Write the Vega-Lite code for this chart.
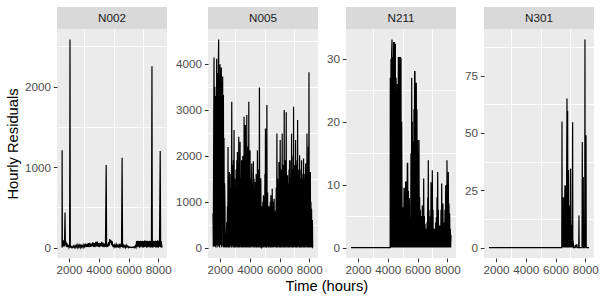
{
  "$schema": "https://vega.github.io/schema/vega-lite/v6.json",
  "padding": {"left": 5, "top": 7, "right": 0, "bottom": 0},
  "autosize": {"type": "pad"},
  "config": {
    "font": "Liberation Sans",
    "view": {"fill": "#EBEBEB", "stroke": null},
    "axis": {
      "domain": false,
      "format": "d",
      "gridColor": "#FFFFFF",
      "tickColor": "#333333",
      "tickSize": 3.7,
      "tickWidth": 1,
      "labelPadding": 2.9,
      "labelFontSize": 11.7,
      "labelColor": "#4D4D4D",
      "labelFont": "Liberation Sans",
      "labelOverlap": false,
      "labelFlush": false,
      "titleFont": "Liberation Sans",
      "titleFontSize": 14.7,
      "titleFontWeight": "normal",
      "titleColor": "#000000",
      "titlePadding": 4
    }
  },
  "title": {"text": "Time (hours)", "orient": "bottom", "anchor": "middle", "fontSize": 14.7, "fontWeight": "normal", "color": "#000000", "font": "Liberation Sans", "offset": 3, "dx": 25},
  "datasets": {
    "N002": [
      {"hour":1530,"residual":0},{"hour":1540,"residual":1210},{"hour":1555,"residual":0},{"hour":1580,"residual":80},{"hour":1610,"residual":20},{"hour":1640,"residual":90},{"hour":1670,"residual":10},{"hour":1700,"residual":70},{"hour":1733,"residual":437},{"hour":1760,"residual":30},{"hour":1790,"residual":75},{"hour":1820,"residual":10},{"hour":1850,"residual":60},{"hour":1880,"residual":5},{"hour":1910,"residual":40},{"hour":1940,"residual":5},{"hour":1970,"residual":30},{"hour":2000,"residual":0},{"hour":2040,"residual":20},{"hour":2067,"residual":2587},{"hour":2090,"residual":0},{"hour":2130,"residual":15},{"hour":2170,"residual":0},{"hour":2210,"residual":10},{"hour":2250,"residual":0},{"hour":2300,"residual":20},{"hour":2350,"residual":0},{"hour":2400,"residual":25},{"hour":2450,"residual":2},{"hour":2500,"residual":30},{"hour":2550,"residual":0},{"hour":2600,"residual":35},{"hour":2650,"residual":5},{"hour":2700,"residual":30},{"hour":2750,"residual":0},{"hour":2800,"residual":40},{"hour":2850,"residual":5},{"hour":2900,"residual":25},{"hour":2950,"residual":0},{"hour":3000,"residual":35},{"hour":3050,"residual":10},{"hour":3100,"residual":50},{"hour":3150,"residual":5},{"hour":3200,"residual":45},{"hour":3250,"residual":10},{"hour":3300,"residual":55},{"hour":3350,"residual":5},{"hour":3400,"residual":60},{"hour":3450,"residual":10},{"hour":3500,"residual":50},{"hour":3550,"residual":15},{"hour":3600,"residual":65},{"hour":3650,"residual":10},{"hour":3700,"residual":55},{"hour":3750,"residual":5},{"hour":3800,"residual":70},{"hour":3850,"residual":15},{"hour":3900,"residual":75},{"hour":3950,"residual":10},{"hour":4000,"residual":55},{"hour":4050,"residual":5},{"hour":4100,"residual":60},{"hour":4150,"residual":15},{"hour":4200,"residual":70},{"hour":4250,"residual":10},{"hour":4300,"residual":60},{"hour":4350,"residual":5},{"hour":4400,"residual":50},{"hour":4450,"residual":10},{"hour":4500,"residual":1025},{"hour":4530,"residual":5},{"hour":4580,"residual":40},{"hour":4620,"residual":10},{"hour":4660,"residual":70},{"hour":4700,"residual":20},{"hour":4740,"residual":105},{"hour":4780,"residual":60},{"hour":4820,"residual":95},{"hour":4860,"residual":30},{"hour":4900,"residual":80},{"hour":4940,"residual":10},{"hour":4980,"residual":40},{"hour":5030,"residual":5},{"hour":5080,"residual":35},{"hour":5130,"residual":0},{"hour":5180,"residual":40},{"hour":5230,"residual":10},{"hour":5280,"residual":30},{"hour":5330,"residual":0},{"hour":5380,"residual":45},{"hour":5430,"residual":5},{"hour":5480,"residual":35},{"hour":5530,"residual":10},{"hour":5570,"residual":1116},{"hour":5600,"residual":0},{"hour":5650,"residual":30},{"hour":5700,"residual":5},{"hour":5750,"residual":25},{"hour":5800,"residual":0},{"hour":5850,"residual":30},{"hour":5900,"residual":5},{"hour":5950,"residual":20},{"hour":6000,"residual":0},{"hour":6050,"residual":10},{"hour":6100,"residual":0},{"hour":6150,"residual":5},{"hour":6200,"residual":0},{"hour":6250,"residual":5},{"hour":6300,"residual":0},{"hour":6350,"residual":10},{"hour":6400,"residual":0},{"hour":6450,"residual":20},{"hour":6500,"residual":0},{"hour":6540,"residual":80},{"hour":6580,"residual":5},{"hour":6620,"residual":85},{"hour":6660,"residual":10},{"hour":6700,"residual":80},{"hour":6740,"residual":0},{"hour":6780,"residual":85},{"hour":6820,"residual":5},{"hour":6860,"residual":80},{"hour":6900,"residual":10},{"hour":6940,"residual":85},{"hour":6980,"residual":0},{"hour":7020,"residual":80},{"hour":7060,"residual":5},{"hour":7100,"residual":90},{"hour":7140,"residual":10},{"hour":7180,"residual":80},{"hour":7220,"residual":0},{"hour":7260,"residual":85},{"hour":7300,"residual":5},{"hour":7340,"residual":80},{"hour":7380,"residual":10},{"hour":7420,"residual":85},{"hour":7460,"residual":0},{"hour":7500,"residual":80},{"hour":7540,"residual":5},{"hour":7575,"residual":2254},{"hour":7600,"residual":0},{"hour":7640,"residual":85},{"hour":7680,"residual":5},{"hour":7720,"residual":80},{"hour":7760,"residual":10},{"hour":7800,"residual":85},{"hour":7840,"residual":0},{"hour":7880,"residual":80},{"hour":7920,"residual":5},{"hour":7960,"residual":90},{"hour":8000,"residual":0},{"hour":8040,"residual":80},{"hour":8080,"residual":10},{"hour":8130,"residual":1200},{"hour":8160,"residual":5},{"hour":8200,"residual":80},{"hour":8250,"residual":0}
    ],
    "N005": [
      {"hour":1530,"residual":740},{"hour":1550,"residual":20},{"hour":1580,"residual":2800},{"hour":1600,"residual":4138},{"hour":1620,"residual":30},{"hour":1650,"residual":3500},{"hour":1670,"residual":2885},{"hour":1690,"residual":10},{"hour":1720,"residual":3300},{"hour":1750,"residual":50},{"hour":1775,"residual":4109},{"hour":1800,"residual":0},{"hour":1830,"residual":3800},{"hour":1860,"residual":40},{"hour":1890,"residual":4000},{"hour":1910,"residual":4531},{"hour":1930,"residual":20},{"hour":1960,"residual":3700},{"hour":1980,"residual":0},{"hour":2000,"residual":3993},{"hour":2030,"residual":60},{"hour":2060,"residual":3500},{"hour":2090,"residual":3920},{"hour":2110,"residual":10},{"hour":2140,"residual":2800},{"hour":2180,"residual":3723},{"hour":2200,"residual":30},{"hour":2230,"residual":3322},{"hour":2250,"residual":0},{"hour":2270,"residual":2383},{"hour":2290,"residual":20},{"hour":2310,"residual":1400},{"hour":2337,"residual":881},{"hour":2350,"residual":0},{"hour":2385,"residual":262},{"hour":2410,"residual":10},{"hour":2450,"residual":553},{"hour":2470,"residual":0},{"hour":2500,"residual":900},{"hour":2520,"residual":30},{"hour":2540,"residual":2192},{"hour":2560,"residual":0},{"hour":2590,"residual":1200},{"hour":2610,"residual":20},{"hour":2630,"residual":1646},{"hour":2650,"residual":0},{"hour":2680,"residual":1300},{"hour":2700,"residual":40},{"hour":2730,"residual":1600},{"hour":2760,"residual":0},{"hour":2790,"residual":3176},{"hour":2810,"residual":30},{"hour":2830,"residual":1800},{"hour":2855,"residual":1428},{"hour":2875,"residual":0},{"hour":2900,"residual":1900},{"hour":2920,"residual":50},{"hour":2945,"residual":2557},{"hour":2965,"residual":0},{"hour":2990,"residual":1500},{"hour":3010,"residual":20},{"hour":3035,"residual":962},{"hour":3055,"residual":0},{"hour":3080,"residual":1700},{"hour":3100,"residual":30},{"hour":3130,"residual":1900},{"hour":3150,"residual":0},{"hour":3170,"residual":2083},{"hour":3190,"residual":40},{"hour":3215,"residual":1600},{"hour":3240,"residual":0},{"hour":3260,"residual":2411},{"hour":3280,"residual":20},{"hour":3305,"residual":1700},{"hour":3325,"residual":0},{"hour":3350,"residual":2302},{"hour":3370,"residual":30},{"hour":3395,"residual":1500},{"hour":3420,"residual":0},{"hour":3450,"residual":1900},{"hour":3470,"residual":50},{"hour":3485,"residual":1727},{"hour":3505,"residual":0},{"hour":3530,"residual":2000},{"hour":3555,"residual":20},{"hour":3580,"residual":1600},{"hour":3600,"residual":0},{"hour":3620,"residual":2848},{"hour":3640,"residual":40},{"hour":3665,"residual":2100},{"hour":3685,"residual":0},{"hour":3705,"residual":2667},{"hour":3725,"residual":30},{"hour":3750,"residual":1900},{"hour":3775,"residual":0},{"hour":3800,"residual":2885},{"hour":3820,"residual":20},{"hour":3850,"residual":2200},{"hour":3870,"residual":0},{"hour":3895,"residual":1800},{"hour":3915,"residual":40},{"hour":3935,"residual":3176},{"hour":3955,"residual":0},{"hour":3980,"residual":1600},{"hour":4000,"residual":30},{"hour":4020,"residual":2120},{"hour":4040,"residual":0},{"hour":4065,"residual":1500},{"hour":4090,"residual":20},{"hour":4110,"residual":1300},{"hour":4135,"residual":1829},{"hour":4155,"residual":0},{"hour":4180,"residual":1400},{"hour":4200,"residual":30},{"hour":4225,"residual":1200},{"hour":4245,"residual":1880},{"hour":4265,"residual":0},{"hour":4290,"residual":1500},{"hour":4310,"residual":20},{"hour":4335,"residual":1300},{"hour":4360,"residual":0},{"hour":4380,"residual":1428},{"hour":4400,"residual":40},{"hour":4430,"residual":1600},{"hour":4450,"residual":0},{"hour":4480,"residual":1400},{"hour":4500,"residual":30},{"hour":4515,"residual":2120},{"hour":4535,"residual":0},{"hour":4560,"residual":1700},{"hour":4580,"residual":20},{"hour":4610,"residual":1500},{"hour":4630,"residual":0},{"hour":4650,"residual":3482},{"hour":4670,"residual":40},{"hour":4700,"residual":1400},{"hour":4720,"residual":0},{"hour":4745,"residual":1508},{"hour":4765,"residual":20},{"hour":4780,"residual":0},{"hour":4800,"residual":10},{"hour":4830,"residual":900},{"hour":4850,"residual":0},{"hour":4880,"residual":1000},{"hour":4900,"residual":20},{"hour":4920,"residual":1137},{"hour":4940,"residual":0},{"hour":4970,"residual":1100},{"hour":4990,"residual":30},{"hour":5020,"residual":1600},{"hour":5040,"residual":0},{"hour":5055,"residual":2594},{"hour":5075,"residual":20},{"hour":5100,"residual":1500},{"hour":5120,"residual":0},{"hour":5150,"residual":3104},{"hour":5170,"residual":30},{"hour":5200,"residual":1200},{"hour":5220,"residual":0},{"hour":5250,"residual":900},{"hour":5270,"residual":20},{"hour":5285,"residual":662},{"hour":5305,"residual":0},{"hour":5330,"residual":900},{"hour":5350,"residual":30},{"hour":5380,"residual":1000},{"hour":5400,"residual":0},{"hour":5420,"residual":1137},{"hour":5440,"residual":20},{"hour":5470,"residual":900},{"hour":5490,"residual":0},{"hour":5510,"residual":1282},{"hour":5530,"residual":30},{"hour":5560,"residual":1000},{"hour":5580,"residual":0},{"hour":5610,"residual":900},{"hour":5640,"residual":1064},{"hour":5660,"residual":20},{"hour":5690,"residual":800},{"hour":5710,"residual":0},{"hour":5730,"residual":662},{"hour":5750,"residual":30},{"hour":5780,"residual":1300},{"hour":5800,"residual":0},{"hour":5825,"residual":2485},{"hour":5845,"residual":20},{"hour":5870,"residual":1500},{"hour":5890,"residual":0},{"hour":5920,"residual":1400},{"hour":5940,"residual":40},{"hour":5960,"residual":1865},{"hour":5980,"residual":0},{"hour":6010,"residual":1600},{"hour":6030,"residual":30},{"hour":6045,"residual":2339},{"hour":6065,"residual":0},{"hour":6090,"residual":1700},{"hour":6110,"residual":20},{"hour":6140,"residual":1500},{"hour":6160,"residual":0},{"hour":6180,"residual":2485},{"hour":6200,"residual":40},{"hour":6230,"residual":1800},{"hour":6250,"residual":0},{"hour":6280,"residual":1600},{"hour":6300,"residual":30},{"hour":6315,"residual":2995},{"hour":6335,"residual":0},{"hour":6360,"residual":1900},{"hour":6380,"residual":20},{"hour":6410,"residual":1700},{"hour":6430,"residual":0},{"hour":6450,"residual":2944},{"hour":6470,"residual":40},{"hour":6500,"residual":1500},{"hour":6520,"residual":0},{"hour":6540,"residual":1574},{"hour":6560,"residual":30},{"hour":6590,"residual":1400},{"hour":6610,"residual":0},{"hour":6640,"residual":1700},{"hour":6660,"residual":20},{"hour":6675,"residual":1902},{"hour":6695,"residual":0},{"hour":6720,"residual":1500},{"hour":6740,"residual":30},{"hour":6770,"residual":1900},{"hour":6790,"residual":0},{"hour":6810,"residual":2485},{"hour":6830,"residual":20},{"hour":6860,"residual":1700},{"hour":6880,"residual":0},{"hour":6910,"residual":2000},{"hour":6930,"residual":40},{"hour":6945,"residual":3067},{"hour":6965,"residual":0},{"hour":6990,"residual":1800},{"hour":7010,"residual":30},{"hour":7040,"residual":1600},{"hour":7060,"residual":0},{"hour":7080,"residual":2339},{"hour":7100,"residual":20},{"hour":7130,"residual":1800},{"hour":7150,"residual":0},{"hour":7180,"residual":1900},{"hour":7200,"residual":40},{"hour":7215,"residual":2776},{"hour":7235,"residual":0},{"hour":7260,"residual":1700},{"hour":7280,"residual":30},{"hour":7310,"residual":1600},{"hour":7330,"residual":0},{"hour":7350,"residual":2011},{"hour":7370,"residual":20},{"hour":7400,"residual":1500},{"hour":7420,"residual":0},{"hour":7450,"residual":1700},{"hour":7470,"residual":40},{"hour":7480,"residual":1902},{"hour":7500,"residual":0},{"hour":7530,"residual":1500},{"hour":7550,"residual":30},{"hour":7580,"residual":1600},{"hour":7600,"residual":0},{"hour":7615,"residual":1939},{"hour":7635,"residual":20},{"hour":7660,"residual":1500},{"hour":7680,"residual":0},{"hour":7710,"residual":1600},{"hour":7730,"residual":40},{"hour":7750,"residual":1829},{"hour":7770,"residual":0},{"hour":7800,"residual":1700},{"hour":7820,"residual":30},{"hour":7845,"residual":2485},{"hour":7865,"residual":0},{"hour":7890,"residual":1900},{"hour":7910,"residual":20},{"hour":7940,"residual":2200},{"hour":7960,"residual":0},{"hour":7980,"residual":3818},{"hour":8000,"residual":30},{"hour":8020,"residual":1600},{"hour":8040,"residual":0},{"hour":8070,"residual":1646},{"hour":8090,"residual":20},{"hour":8110,"residual":1000},{"hour":8130,"residual":0},{"hour":8155,"residual":846},{"hour":8180,"residual":10},{"hour":8210,"residual":600},{"hour":8230,"residual":0},{"hour":8250,"residual":0}
    ],
    "N211": [
      {"hour":1530,"residual":0},{"hour":4160,"residual":0},{"hour":4170,"residual":27},{"hour":4190,"residual":0},{"hour":4215,"residual":30},{"hour":4235,"residual":0},{"hour":4260,"residual":31},{"hour":4285,"residual":33.1},{"hour":4300,"residual":0},{"hour":4325,"residual":30.2},{"hour":4350,"residual":30.2},{"hour":4365,"residual":0},{"hour":4390,"residual":32.7},{"hour":4410,"residual":0},{"hour":4440,"residual":32.7},{"hour":4460,"residual":0},{"hour":4490,"residual":32.3},{"hour":4510,"residual":32.3},{"hour":4530,"residual":0},{"hour":4560,"residual":27},{"hour":4580,"residual":0},{"hour":4600,"residual":21.4},{"hour":4620,"residual":0},{"hour":4645,"residual":26},{"hour":4670,"residual":21.1},{"hour":4690,"residual":0},{"hour":4710,"residual":30.2},{"hour":4735,"residual":30.2},{"hour":4750,"residual":0},{"hour":4770,"residual":30.2},{"hour":4790,"residual":30.2},{"hour":4810,"residual":0},{"hour":4830,"residual":30.2},{"hour":4850,"residual":30.2},{"hour":4870,"residual":0},{"hour":4890,"residual":30.2},{"hour":4910,"residual":0},{"hour":4935,"residual":20},{"hour":4960,"residual":6.4},{"hour":4980,"residual":0},{"hour":5000,"residual":6.4},{"hour":5020,"residual":0},{"hour":5045,"residual":6.4},{"hour":5065,"residual":0},{"hour":5090,"residual":9.4},{"hour":5110,"residual":9.4},{"hour":5130,"residual":0},{"hour":5150,"residual":7},{"hour":5175,"residual":0},{"hour":5200,"residual":10.4},{"hour":5225,"residual":10.4},{"hour":5245,"residual":0},{"hour":5270,"residual":8},{"hour":5290,"residual":0},{"hour":5315,"residual":13.4},{"hour":5340,"residual":13.4},{"hour":5360,"residual":0},{"hour":5385,"residual":9},{"hour":5405,"residual":0},{"hour":5430,"residual":7.8},{"hour":5450,"residual":7.8},{"hour":5470,"residual":0},{"hour":5495,"residual":4.6},{"hour":5515,"residual":4.6},{"hour":5535,"residual":0},{"hour":5560,"residual":15},{"hour":5585,"residual":0},{"hour":5610,"residual":27},{"hour":5630,"residual":0},{"hour":5650,"residual":20},{"hour":5670,"residual":0},{"hour":5690,"residual":16.8},{"hour":5715,"residual":16.8},{"hour":5735,"residual":0},{"hour":5760,"residual":22},{"hour":5780,"residual":0},{"hour":5805,"residual":28},{"hour":5830,"residual":28},{"hour":5850,"residual":0},{"hour":5870,"residual":26.2},{"hour":5895,"residual":0},{"hour":5920,"residual":26.2},{"hour":5940,"residual":0},{"hour":5960,"residual":22},{"hour":5985,"residual":0},{"hour":6010,"residual":17.1},{"hour":6030,"residual":0},{"hour":6055,"residual":15},{"hour":6075,"residual":0},{"hour":6100,"residual":17.1},{"hour":6120,"residual":0},{"hour":6145,"residual":8},{"hour":6165,"residual":0},{"hour":6190,"residual":6},{"hour":6210,"residual":0},{"hour":6235,"residual":3.5},{"hour":6255,"residual":0},{"hour":6275,"residual":5},{"hour":6295,"residual":0},{"hour":6320,"residual":6.7},{"hour":6340,"residual":0},{"hour":6365,"residual":4},{"hour":6385,"residual":0},{"hour":6415,"residual":11},{"hour":6435,"residual":0},{"hour":6460,"residual":5},{"hour":6480,"residual":0},{"hour":6505,"residual":3.8},{"hour":6525,"residual":0},{"hour":6550,"residual":3},{"hour":6570,"residual":0},{"hour":6590,"residual":2},{"hour":6610,"residual":0},{"hour":6640,"residual":4},{"hour":6660,"residual":0},{"hour":6690,"residual":8},{"hour":6705,"residual":0},{"hour":6725,"residual":13.9},{"hour":6745,"residual":0},{"hour":6770,"residual":6},{"hour":6790,"residual":0},{"hour":6820,"residual":3},{"hour":6840,"residual":0},{"hour":6865,"residual":5},{"hour":6885,"residual":0},{"hour":6905,"residual":10.4},{"hour":6925,"residual":0},{"hour":6950,"residual":8},{"hour":6970,"residual":0},{"hour":6995,"residual":12.3},{"hour":7015,"residual":0},{"hour":7040,"residual":6},{"hour":7060,"residual":0},{"hour":7085,"residual":3},{"hour":7105,"residual":0},{"hour":7130,"residual":3},{"hour":7150,"residual":0},{"hour":7175,"residual":3},{"hour":7195,"residual":0},{"hour":7220,"residual":4},{"hour":7240,"residual":0},{"hour":7265,"residual":4.8},{"hour":7285,"residual":0},{"hour":7310,"residual":8},{"hour":7330,"residual":0},{"hour":7355,"residual":12},{"hour":7375,"residual":0},{"hour":7400,"residual":6},{"hour":7420,"residual":0},{"hour":7445,"residual":3.2},{"hour":7465,"residual":0},{"hour":7490,"residual":3.5},{"hour":7510,"residual":0},{"hour":7530,"residual":3.5},{"hour":7550,"residual":0},{"hour":7580,"residual":6},{"hour":7600,"residual":0},{"hour":7625,"residual":10.2},{"hour":7645,"residual":0},{"hour":7670,"residual":5},{"hour":7690,"residual":0},{"hour":7710,"residual":7},{"hour":7730,"residual":0},{"hour":7755,"residual":4},{"hour":7775,"residual":0},{"hour":7800,"residual":3.3},{"hour":7820,"residual":0},{"hour":7845,"residual":6},{"hour":7865,"residual":0},{"hour":7895,"residual":9.9},{"hour":7915,"residual":0},{"hour":7940,"residual":8},{"hour":7960,"residual":0},{"hour":7980,"residual":13.9},{"hour":8000,"residual":0},{"hour":8025,"residual":10},{"hour":8045,"residual":0},{"hour":8070,"residual":12},{"hour":8090,"residual":0},{"hour":8115,"residual":7},{"hour":8135,"residual":0},{"hour":8160,"residual":5.4},{"hour":8180,"residual":0},{"hour":8205,"residual":3},{"hour":8225,"residual":0},{"hour":8250,"residual":2}
    ],
    "N301": [
      {"hour":1530,"residual":0},{"hour":6400,"residual":0},{"hour":6420,"residual":0},{"hour":6435,"residual":55},{"hour":6450,"residual":0},{"hour":6480,"residual":10},{"hour":6500,"residual":0},{"hour":6523,"residual":22},{"hour":6540,"residual":0},{"hour":6560,"residual":15},{"hour":6580,"residual":0},{"hour":6610,"residual":20},{"hour":6637,"residual":27.2},{"hour":6650,"residual":0},{"hour":6680,"residual":18},{"hour":6705,"residual":27},{"hour":6720,"residual":0},{"hour":6745,"residual":30},{"hour":6770,"residual":65},{"hour":6790,"residual":0},{"hour":6815,"residual":59.6},{"hour":6830,"residual":5},{"hour":6850,"residual":20},{"hour":6865,"residual":0},{"hour":6880,"residual":33.8},{"hour":6895,"residual":5},{"hour":6915,"residual":18},{"hour":6930,"residual":0},{"hour":6950,"residual":18.4},{"hour":6965,"residual":3},{"hour":6985,"residual":15},{"hour":7000,"residual":0},{"hour":7015,"residual":34.5},{"hour":7030,"residual":2},{"hour":7045,"residual":10},{"hour":7060,"residual":0},{"hour":7080,"residual":8},{"hour":7100,"residual":0},{"hour":7125,"residual":5},{"hour":7150,"residual":54.7},{"hour":7165,"residual":0},{"hour":7190,"residual":3},{"hour":7210,"residual":0},{"hour":7300,"residual":0},{"hour":7330,"residual":1},{"hour":7350,"residual":1},{"hour":7370,"residual":0},{"hour":7420,"residual":1.2},{"hour":7440,"residual":1.2},{"hour":7460,"residual":0},{"hour":7560,"residual":0},{"hour":7575,"residual":14},{"hour":7590,"residual":0},{"hour":7780,"residual":0},{"hour":7800,"residual":46},{"hour":7815,"residual":0},{"hour":7840,"residual":20},{"hour":7865,"residual":30.8},{"hour":7880,"residual":0},{"hour":7950,"residual":0},{"hour":7965,"residual":20},{"hour":7980,"residual":90.8},{"hour":7995,"residual":0},{"hour":8020,"residual":30},{"hour":8050,"residual":49},{"hour":8065,"residual":0},{"hour":8250,"residual":0}
    ]
  },
  "spacing": 3,
  "hconcat": [
    {
      "spacing": 0,
      "vconcat": [
        {"data": {"values": [{"node": "N002"}]}, "width": 110, "height": 22, "view": {"fill": "#D9D9D9", "stroke": null}, "mark": {"type": "text", "fontSize": 11.7, "color": "#1A1A1A", "font": "Liberation Sans"}, "encoding": {"text": {"field": "node"}}},
        {"data": {"name": "N002"}, "width": 110, "height": 229,
         "layer": [
           {"mark": {"type": "line", "opacity": 0}, "encoding": {
             "x": {"field": "hour", "type": "quantitative", "scale": {"domain": [1194, 8586], "nice": false, "zero": false}, "axis": {"orient": "bottom", "values": [3000, 5000, 7000], "labels": false, "ticks": false, "title": null, "gridWidth": 0.9}},
             "y": {"field": "residual", "type": "quantitative", "scale": {"domain": [-129.4, 2716.4], "nice": false, "zero": false}, "axis": {"orient": "left", "values": [500, 1500, 2500], "labels": false, "ticks": false, "title": null, "gridWidth": 0.9}}}},
           {"mark": {"type": "line", "color": "#000000", "strokeWidth": 1.2}, "encoding": {
             "x": {"field": "hour", "type": "quantitative", "axis": {"orient": "bottom", "values": [2000, 4000, 6000, 8000], "title": null, "gridWidth": 1.8}},
             "y": {"field": "residual", "type": "quantitative", "axis": {"orient": "left", "values": [0, 1000, 2000], "title": "Hourly Residuals", "gridWidth": 1.8}}}}
         ],
         "resolve": {"axis": {"x": "independent", "y": "independent"}}
        }
      ]
    },
    {
      "spacing": 0,
      "vconcat": [
        {"data": {"values": [{"node": "N005"}]}, "width": 110, "height": 22, "view": {"fill": "#D9D9D9", "stroke": null}, "mark": {"type": "text", "fontSize": 11.7, "color": "#1A1A1A", "font": "Liberation Sans"}, "encoding": {"text": {"field": "node"}}},
        {"data": {"name": "N005"}, "width": 110, "height": 229,
         "layer": [
           {"mark": {"type": "line", "opacity": 0}, "encoding": {
             "x": {"field": "hour", "type": "quantitative", "scale": {"domain": [1194, 8586], "nice": false, "zero": false}, "axis": {"orient": "bottom", "values": [3000, 5000, 7000], "labels": false, "ticks": false, "title": null, "gridWidth": 0.9}},
             "y": {"field": "residual", "type": "quantitative", "scale": {"domain": [-226.6, 4757.6], "nice": false, "zero": false}, "axis": {"orient": "left", "values": [500, 1500, 2500, 3500, 4500], "labels": false, "ticks": false, "title": null, "gridWidth": 0.9}}}},
           {"mark": {"type": "line", "color": "#000000", "strokeWidth": 1.2}, "encoding": {
             "x": {"field": "hour", "type": "quantitative", "axis": {"orient": "bottom", "values": [2000, 4000, 6000, 8000], "title": null, "gridWidth": 1.8}},
             "y": {"field": "residual", "type": "quantitative", "axis": {"orient": "left", "values": [0, 1000, 2000, 3000, 4000], "title": null, "gridWidth": 1.8}}}}
         ],
         "resolve": {"axis": {"x": "independent", "y": "independent"}}
        }
      ]
    },
    {
      "spacing": 0,
      "vconcat": [
        {"data": {"values": [{"node": "N211"}]}, "width": 110, "height": 22, "view": {"fill": "#D9D9D9", "stroke": null}, "mark": {"type": "text", "fontSize": 11.7, "color": "#1A1A1A", "font": "Liberation Sans"}, "encoding": {"text": {"field": "node"}}},
        {"data": {"name": "N211"}, "width": 110, "height": 229,
         "layer": [
           {"mark": {"type": "line", "opacity": 0}, "encoding": {
             "x": {"field": "hour", "type": "quantitative", "scale": {"domain": [1194, 8586], "nice": false, "zero": false}, "axis": {"orient": "bottom", "values": [3000, 5000, 7000], "labels": false, "ticks": false, "title": null, "gridWidth": 0.9}},
             "y": {"field": "residual", "type": "quantitative", "scale": {"domain": [-1.66, 34.76], "nice": false, "zero": false}, "axis": {"orient": "left", "values": [5, 15, 25], "labels": false, "ticks": false, "title": null, "gridWidth": 0.9}}}},
           {"mark": {"type": "line", "color": "#000000", "strokeWidth": 1.2}, "encoding": {
             "x": {"field": "hour", "type": "quantitative", "axis": {"orient": "bottom", "values": [2000, 4000, 6000, 8000], "title": null, "gridWidth": 1.8}},
             "y": {"field": "residual", "type": "quantitative", "axis": {"orient": "left", "values": [0, 10, 20, 30], "title": null, "gridWidth": 1.8}}}}
         ],
         "resolve": {"axis": {"x": "independent", "y": "independent"}}
        }
      ]
    },
    {
      "spacing": 0,
      "vconcat": [
        {"data": {"values": [{"node": "N301"}]}, "width": 110, "height": 22, "view": {"fill": "#D9D9D9", "stroke": null}, "mark": {"type": "text", "fontSize": 11.7, "color": "#1A1A1A", "font": "Liberation Sans"}, "encoding": {"text": {"field": "node"}}},
        {"data": {"name": "N301"}, "width": 110, "height": 229,
         "layer": [
           {"mark": {"type": "line", "opacity": 0}, "encoding": {
             "x": {"field": "hour", "type": "quantitative", "scale": {"domain": [1194, 8586], "nice": false, "zero": false}, "axis": {"orient": "bottom", "values": [3000, 5000, 7000], "labels": false, "ticks": false, "title": null, "gridWidth": 0.9}},
             "y": {"field": "residual", "type": "quantitative", "scale": {"domain": [-4.54, 95.34], "nice": false, "zero": false}, "axis": {"orient": "left", "values": [12.5, 37.5, 62.5, 87.5], "labels": false, "ticks": false, "title": null, "gridWidth": 0.9}}}},
           {"mark": {"type": "line", "color": "#000000", "strokeWidth": 1.2}, "encoding": {
             "x": {"field": "hour", "type": "quantitative", "axis": {"orient": "bottom", "values": [2000, 4000, 6000, 8000], "title": null, "gridWidth": 1.8}},
             "y": {"field": "residual", "type": "quantitative", "axis": {"orient": "left", "values": [0, 25, 50, 75], "title": null, "gridWidth": 1.8}}}}
         ],
         "resolve": {"axis": {"x": "independent", "y": "independent"}}
        }
      ]
    }
  ]
}
